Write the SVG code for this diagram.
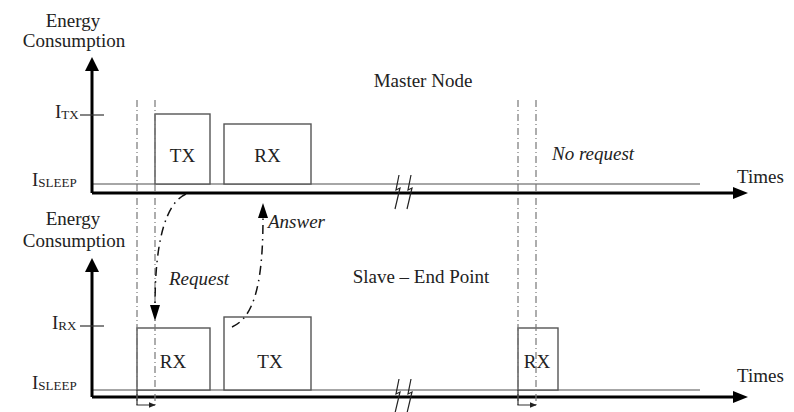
<svg xmlns="http://www.w3.org/2000/svg" width="794" height="412" viewBox="0 0 794 412">
<style>
text{font-family:"Liberation Serif","Times New Roman",serif;fill:#222;font-size:19px}
.it{font-style:italic}
.sub{font-size:13px}
.axis{stroke:#000;stroke-width:3;fill:none}
.sleep{stroke:#888;stroke-width:1.5;fill:none}
.box{stroke:#555;stroke-width:1.4;fill:#fff}
.tick{stroke:#333;stroke-width:1.2}
.dd{stroke:#777;stroke-width:1.2;stroke-dasharray:7 3 1 3;fill:none}
.flow{stroke:#111;stroke-width:1.5;stroke-dasharray:9 5 1.5 5;fill:none}
.brk{stroke:#222;stroke-width:1.2;fill:none}
.brk2{stroke:#555;stroke-width:1.2;fill:none}
</style>
<defs>
<marker id="ah" viewBox="0 0 10 10" refX="9" refY="5" markerWidth="5" markerHeight="5" orient="auto" markerUnits="strokeWidth"><path d="M0,0 L10,5 L0,10 z" fill="#000"/></marker>
<marker id="ahs" viewBox="0 0 10 10" refX="9" refY="5" markerWidth="7" markerHeight="7" orient="auto" markerUnits="userSpaceOnUse"><path d="M0,1 L10,5 L0,9 z" fill="#222"/></marker>
<marker id="ahf" viewBox="0 0 10 10" refX="9" refY="5" markerWidth="14" markerHeight="10" orient="auto" markerUnits="userSpaceOnUse" preserveAspectRatio="none"><path d="M0,0 L10,5 L0,10 z" fill="#000"/></marker>
</defs>

<g id="master-panel">
<g id="master-axes">
<path class="sleep" d="M92,184 H700"/>
<path class="axis" d="M92,193 V70"/>
<path d="M85,71 L92,57 L99,71 z" fill="#000"/>
<path class="axis" d="M92,193 H734"/>
<path d="M733,187 L748,193 L733,199 z" fill="#000"/>
<line class="tick" x1="80" y1="115" x2="104" y2="115"/>
<text x="73" y="27" text-anchor="middle">Energy</text>
<text x="74" y="47" text-anchor="middle">Consumption</text>
<text x="55" y="118">I<tspan class="sub" dy="1">TX</tspan></text>
<text x="32" y="186">I<tspan class="sub" dy="1">SLEEP</tspan></text>
<text x="737" y="183">Times</text>
<text x="423" y="87" text-anchor="middle">Master Node</text>
<text class="it" x="552" y="160">No request</text>
</g>
<g id="master-tx"><rect class="box" x="155" y="114" width="55" height="70"/><text x="182.5" y="162" text-anchor="middle">TX</text></g>
<g id="master-rx"><rect class="box" x="224" y="124" width="87" height="60"/><text x="267.5" y="162" text-anchor="middle">RX</text></g>
<g id="master-break">
<path class="brk" d="M399,175 L396,190 L400,188 L395,209"/>
<path class="brk" d="M411,175 L408,190 L412,188 L407,209"/>
</g>
</g>

<g id="slave-panel">
<g id="slave-axes">
<path class="sleep" d="M92,390 H700"/>
<path class="axis" d="M92,397 V271"/>
<path d="M85,272 L92,258 L99,272 z" fill="#000"/>
<path class="axis" d="M92,397 H734"/>
<path d="M733,391 L748,397 L733,403 z" fill="#000"/>
<line class="tick" x1="80" y1="326" x2="104" y2="326"/>
<text x="73" y="225" text-anchor="middle">Energy</text>
<text x="74" y="247" text-anchor="middle">Consumption</text>
<text x="52" y="329">I<tspan class="sub" dy="1">RX</tspan></text>
<text x="32" y="389">I<tspan class="sub" dy="1">SLEEP</tspan></text>
<text x="737" y="382">Times</text>
<text x="421" y="283" text-anchor="middle">Slave – End Point</text>
</g>
<g id="slave-rx1"><rect class="box" x="137" y="328" width="73" height="62"/><text x="173" y="368" text-anchor="middle">RX</text></g>
<g id="slave-tx"><rect class="box" x="224" y="317" width="87" height="73"/><text x="270" y="368" text-anchor="middle">TX</text></g>
<g id="slave-rx2"><rect class="box" x="518" y="328" width="40" height="62"/><text x="537" y="368" text-anchor="middle">RX</text></g>
<g id="slave-break">
<path class="brk" d="M399,379 L396,394 L400,392 L395,413"/>
<path class="brk" d="M411,379 L408,394 L412,392 L407,413"/>
</g>
</g>

<g id="connectors">
<path class="dd" d="M137,100 V405"/>
<path class="dd" d="M155,100 V405"/>
<path class="dd" d="M518,100 V405"/>
<path class="dd" d="M536,100 V405"/>
<path d="M137,390 V405 H155" stroke="#333" stroke-width="1.2" fill="none" marker-end="url(#ahs)"/>
<path d="M518,390 V405 H536" stroke="#333" stroke-width="1.2" fill="none" marker-end="url(#ahs)"/>
<path class="flow" d="M186,194 C166,203 155,240 155,306"/>
<path d="M150,305 L155,321 L160,305 z" fill="#000"/>
<path class="flow" d="M232,327 C252,318 263,290 263,218"/>
<path d="M258,218 L263,203 L268,218 z" fill="#000"/>
<text class="it" x="169" y="285">Request</text>
<text class="it" x="268" y="228">Answer</text>
</g>
</svg>
